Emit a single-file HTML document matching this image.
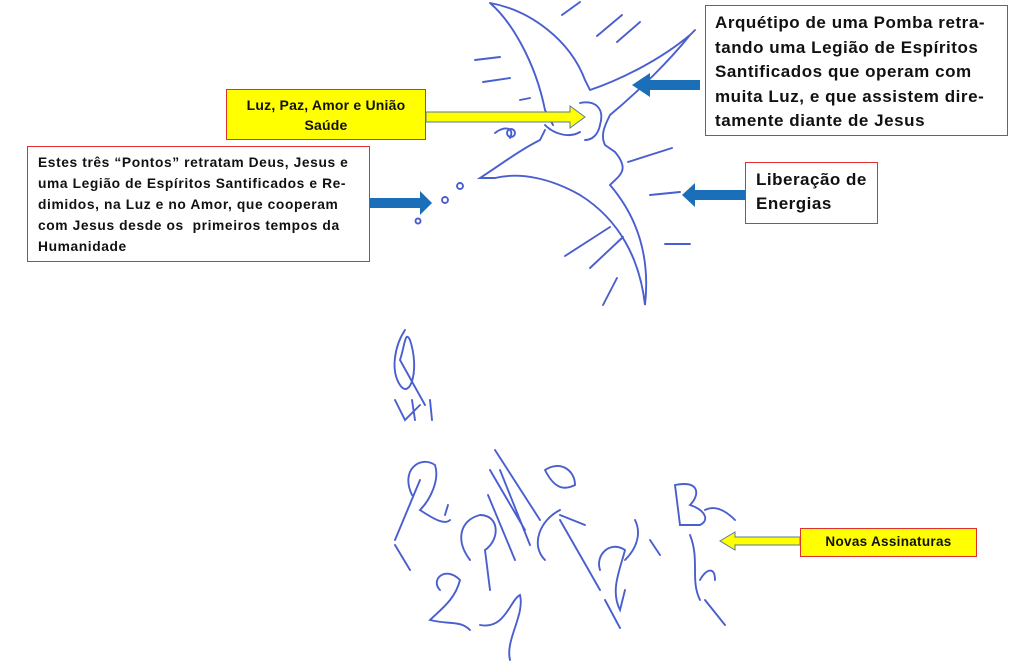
<!DOCTYPE html>
<html><head><meta charset="utf-8"><style>
body{margin:0;width:1024px;height:669px;background:#fff;position:relative;overflow:hidden;font-family:"Liberation Sans",sans-serif;font-weight:bold;color:#111}
.b{position:absolute;border:1.5px solid #e03030;box-sizing:border-box;background:#fff;white-space:nowrap}
.y{background:#ffff00}
</style></head><body>
<svg width="1024" height="669" style="position:absolute;left:0;top:0" fill="none" stroke="#4a5fcf" stroke-width="1.9" stroke-linecap="round">
<path d="M490 3 C530 10 570 40 585 80 L590 90 C620 80 660 60 690 35 L695 30 M490 3 C510 20 535 60 545 110 L553 125 M690 35 C670 60 640 90 610 115 C605 125 600 135 605 145 L615 152 C630 170 620 175 610 185 C640 220 650 260 645 305 C640 260 620 220 580 195 C550 178 520 172 495 178 L480 178 C500 165 520 150 540 140 L545 130 M580 103 C595 100 605 108 600 125 C598 135 592 140 585 140 M545 125 C555 135 570 138 580 132 M495 133 C505 125 515 128 510 138"/>
<circle cx="511" cy="133" r="4"/><circle cx="460" cy="186" r="3"/><circle cx="445" cy="200" r="3"/><circle cx="418" cy="221" r="2.5"/>
<path d="M475 60 L500 57 M483 82 L510 78 M520 100 L530 98 M562 15 L580 2 M597 36 L622 15 M617 42 L640 22 M628 162 L672 148 M650 195 L680 192 M610 227 L565 256 M623 237 L590 268 M665 244 L690 244 M617 278 L603 305"/>
<path d="M405 330 C395 345 390 370 400 385 C410 400 420 370 410 340 C405 330 405 345 400 360 L425 405 M395 400 L405 420 L420 405 M412 400 L415 420 M430 400 L432 420"/>
<path d="M412 495 C400 470 420 455 435 465 C440 480 430 500 420 510 C435 520 445 525 450 520 M395 545 L410 570 M395 540 L420 480 M445 515 L448 505"/>
<path d="M470 560 C455 540 460 520 480 515 C500 515 500 540 485 550 L490 590 M495 450 L540 520 M490 470 L525 530 M488 495 L515 560 M500 470 L530 545 M545 470 C560 460 575 470 575 485 C565 490 555 490 545 470 M560 510 C540 520 530 545 545 560 M560 520 L600 590 M560 515 L585 525"/>
<path d="M440 590 C430 580 445 565 460 580 C455 600 440 610 430 620 C450 625 460 620 470 630 M480 625 C505 630 510 600 520 595 C525 615 505 640 510 660"/>
<path d="M600 570 C595 555 610 540 625 550 C620 570 610 590 620 610 L625 590 M605 600 L620 628 M625 560 C640 545 640 530 635 520 M650 540 L660 555 M690 535 C700 560 690 580 700 600 M705 600 L725 625 M700 580 C705 570 715 565 715 580"/>
<path d="M675 485 C700 480 700 495 690 505 C705 510 710 520 700 525 L680 525 Z M705 510 C715 505 725 510 735 520"/>
</svg>
<svg width="1024" height="669" style="position:absolute;left:0;top:0">
<polygon points="426,112 570,112 570,106 585,117 570,128 570,122 426,122" fill="#ffff00" stroke="#5b7a9a" stroke-width="1"/>
<polygon points="700,80 650,80 650,73 632,85 650,97 650,90 700,90" fill="#1b6fb8"/>
<polygon points="370,198 420,198 420,191 432,203 420,215 420,208 370,208" fill="#1b6fb8"/>
<polygon points="745,190 695,190 695,183 682,195 695,207 695,200 745,200" fill="#1b6fb8"/>
<polygon points="800,537 735,537 735,532 720,541 735,550 735,545 800,545" fill="#ffff00" stroke="#5b7a9a" stroke-width="1"/>
</svg>
<div class="b" style="left:705px;top:5px;width:303px;height:131px;font-size:17px;line-height:24.5px;padding:5px 0 0 9px;letter-spacing:0.55px">Arquétipo de uma Pomba retra-<br>tando uma Legião de Espíritos<br>Santificados que operam com<br>muita Luz, e que assistem dire-<br>tamente diante de Jesus</div>
<div class="b y" style="left:226px;top:89px;width:200px;height:51px;font-size:14px;line-height:20px;text-align:center;padding-top:5px;letter-spacing:0.2px">Luz, Paz, Amor e União<br>Saúde</div>
<div class="b" style="left:27px;top:146px;width:343px;height:116px;font-size:13.8px;line-height:21px;padding:5px 0 0 10px;letter-spacing:0.6px">Estes três “Pontos” retratam Deus, Jesus e<br>uma Legião de Espíritos Santificados e Re-<br>dimidos, na Luz e no Amor, que cooperam<br>com Jesus desde os &nbsp;primeiros tempos da<br>Humanidade</div>
<div class="b" style="left:745px;top:162px;width:133px;height:62px;font-size:17px;line-height:24px;padding:5px 0 0 10px;letter-spacing:0.5px">Liberação de<br>Energias</div>
<div class="b y" style="left:800px;top:528px;width:177px;height:29px;font-size:13.5px;line-height:26px;text-align:center;letter-spacing:0.3px">Novas Assinaturas</div>
</body></html>
